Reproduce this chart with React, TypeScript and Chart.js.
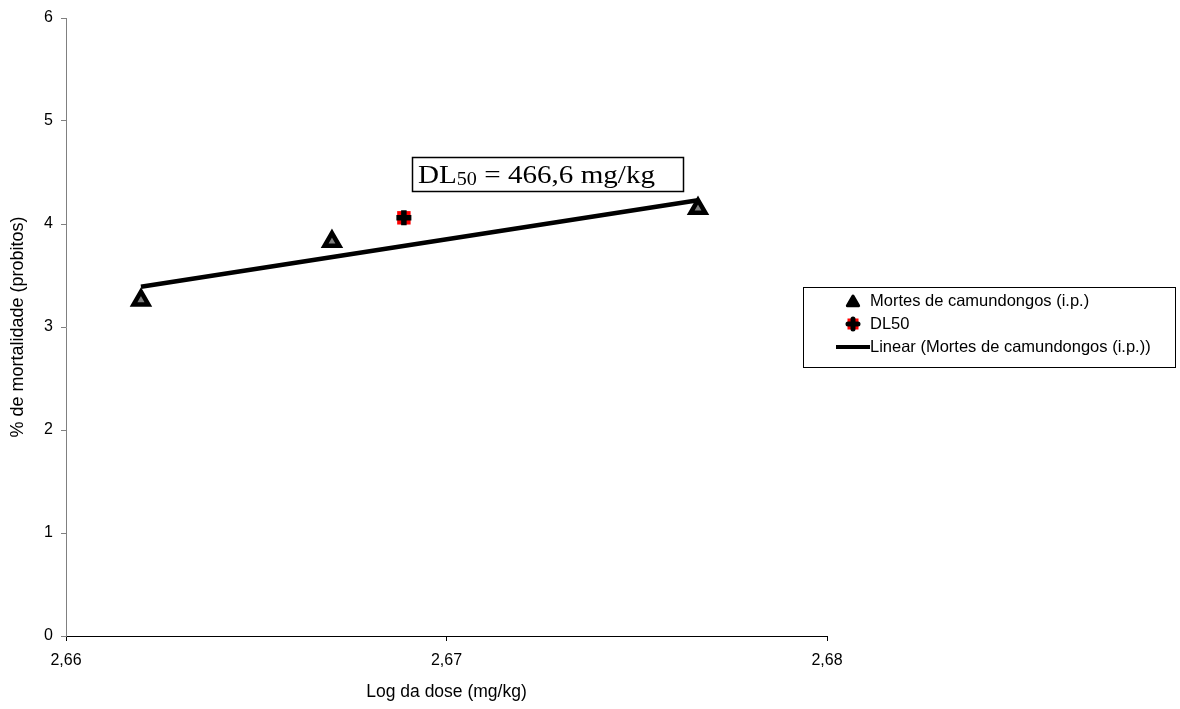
import React, { useEffect, useRef } from 'react';
import { Chart, registerables } from 'chart.js';

Chart.register(...registerables);

// ---- data ----
const doseLog = [2.66197, 2.66699, 2.67661];
const mortalityProbit = [3.26, 3.83, 4.15];
const dl50Log = [2.66888];
const dl50Probit = [4.06];
const trendLog = [2.66197, 2.67661];
const trendProbit = [3.39, 4.23];
const xTickValues = [2.66, 2.67, 2.68];
const yTickValues = [0, 1, 2, 3, 4, 5, 6];
const seriesLabels = [
  'Mortes de camundongos (i.p.)',
  'DL50',
  'Linear (Mortes de camundongos (i.p.))',
];
const xTitle = 'Log da dose (mg/kg)';
const yTitle = '% de mortalidade (probitos)';
const annotationMain = 'DL';
const annotationSub = '50';
const annotationRest = ' = 466,6 mg/kg';

const SANS = '"Liberation Sans", Arial, sans-serif';
const SERIF = '"Liberation Serif", "Times New Roman", serif';

function drawTriangle(ctx: CanvasRenderingContext2D, x: number, y: number, r: number) {
  ctx.beginPath();
  for (let i = 0; i < 3; i++) {
    const a = -Math.PI / 2 + (i * 2 * Math.PI) / 3;
    const px = x + Math.cos(a) * r;
    const py = y + Math.sin(a) * r;
    if (i === 0) ctx.moveTo(px, py);
    else ctx.lineTo(px, py);
  }
  ctx.closePath();
  ctx.fillStyle = '#000';
  ctx.fill();
  ctx.lineJoin = 'round';
  ctx.lineWidth = 3;
  ctx.strokeStyle = '#000';
  ctx.stroke();
}

function drawDL50(ctx: CanvasRenderingContext2D, x: number, y: number) {
  ctx.fillStyle = '#ff0000';
  ctx.fillRect(x - 5.5, y - 5.5, 11, 11);
  ctx.strokeStyle = '#000';
  ctx.lineWidth = 5;
  ctx.lineCap = 'round';
  ctx.beginPath();
  ctx.moveTo(x - 5, y);
  ctx.lineTo(x + 5, y);
  ctx.moveTo(x, y - 5);
  ctx.lineTo(x, y + 5);
  ctx.stroke();
  ctx.lineCap = 'butt';
}

const overlayPlugin = {
  id: 'overlay',
  afterDraw(chart: any) {
    const ctx: CanvasRenderingContext2D = chart.ctx;
    ctx.save();

    // annotation box
    ctx.strokeStyle = '#000';
    ctx.lineWidth = 1.5;
    ctx.strokeRect(412.5, 157.5, 271, 34);
    ctx.fillStyle = '#000';
    ctx.textBaseline = 'alphabetic';
    ctx.textAlign = 'left';
    const bigFont = `26px ${SERIF}`;
    const smallFont = `18px ${SERIF}`;
    ctx.font = bigFont;
    const wMain = ctx.measureText(annotationMain).width;
    const wRest = ctx.measureText(annotationRest).width;
    ctx.font = smallFont;
    const wSub = ctx.measureText(annotationSub).width;
    const total = wMain + wSub + wRest;
    const sx = 237 / total;
    const base = 183;
    ctx.save();
    ctx.translate(418, 0);
    ctx.scale(sx, 1);
    ctx.font = bigFont;
    ctx.fillText(annotationMain, 0, base);
    ctx.font = smallFont;
    ctx.fillText(annotationSub, wMain, base + 2);
    ctx.font = bigFont;
    ctx.fillText(annotationRest, wMain + wSub, base);
    ctx.restore();

    // legend
    ctx.lineWidth = 1;
    ctx.strokeStyle = '#000';
    ctx.strokeRect(803.5, 287.5, 372, 80);
    const rows = [301, 324, 347];
    drawTriangle(ctx, 853, rows[0] + 1.5, 6.5);
    drawDL50(ctx, 853, rows[1]);
    ctx.strokeStyle = '#000';
    ctx.lineWidth = 4;
    ctx.beginPath();
    ctx.moveTo(836, rows[2]);
    ctx.lineTo(870, rows[2]);
    ctx.stroke();
    ctx.font = `16.5px ${SANS}`;
    ctx.textBaseline = 'middle';
    ctx.fillStyle = '#000';
    ctx.fillText(seriesLabels[0], 870, rows[0]);
    ctx.fillText(seriesLabels[1], 870, rows[1]);
    ctx.fillText(seriesLabels[2], 870, rows[2]);

    ctx.restore();
  },
};

export default function App() {
  const canvasRef = useRef<HTMLCanvasElement | null>(null);

  useEffect(() => {
    if (!canvasRef.current) return;
    const chart = new Chart(canvasRef.current, {
      type: 'scatter',
      data: {
        datasets: [
          {
            label: seriesLabels[0],
            data: doseLog.map((x, i) => ({ x, y: mortalityProbit[i] })),
            pointStyle: 'triangle',
            pointRadius: 8.5,
            pointHoverRadius: 8.5,
            backgroundColor: '#808080',
            borderColor: '#000',
            borderWidth: 4.5,
            order: 1,
          },
          {
            label: seriesLabels[1],
            data: dl50Log.map((x, i) => ({ x, y: dl50Probit[i] })),
            pointStyle: 'cross',
            pointRadius: 7.5,
            borderColor: '#000',
            borderWidth: 5.5,
            order: 2,
          },
          {
            label: seriesLabels[1] + ' fill',
            data: dl50Log.map((x, i) => ({ x, y: dl50Probit[i] })),
            pointStyle: 'rect',
            pointRadius: 9.5,
            backgroundColor: '#ff0000',
            borderWidth: 0,
            order: 3,
          },
          {
            label: seriesLabels[2],
            data: trendLog.map((x, i) => ({ x, y: trendProbit[i] })),
            showLine: true,
            pointRadius: 0,
            borderColor: '#000',
            borderWidth: 4.5,
            order: 4,
          },
        ],
      },
      options: {
        responsive: true,
        maintainAspectRatio: false,
        animation: false,
        layout: { padding: { left: 0, right: 353, top: 18, bottom: 0 } },
        plugins: {
          legend: { display: false },
          tooltip: { enabled: false },
        },
        scales: {
          x: {
            type: 'linear',
            min: 2.66,
            max: 2.68,
            afterFit: (s: any) => {
              s.height = 73;
            },
            afterBuildTicks: (s: any) => {
              s.ticks = xTickValues.map((v) => ({ value: v }));
            },
            ticks: {
              color: '#000',
              font: { family: SANS, size: 16 },
              padding: 10,
              maxRotation: 0,
              callback: (v: any) => Number(v).toFixed(2).replace('.', ','),
            },
            grid: { drawOnChartArea: false, drawTicks: true, tickLength: 5, color: '#000' },
            border: { display: true, color: '#000', width: 1 },
            title: {
              display: true,
              text: xTitle,
              color: '#000',
              font: { family: SANS, size: 17.5 },
              padding: { top: 0, bottom: 6 },
            },
          },
          y: {
            type: 'linear',
            min: 0,
            max: 6,
            afterFit: (s: any) => {
              s.width = 66;
            },
            afterBuildTicks: (s: any) => {
              s.ticks = yTickValues.map((v) => ({ value: v }));
            },
            ticks: {
              color: '#000',
              font: { family: SANS, size: 16 },
              padding: 8,
              callback: (v: any) => String(v),
            },
            grid: { drawOnChartArea: false, drawTicks: true, tickLength: 5, color: '#808080' },
            border: { display: true, color: '#808080', width: 1 },
            title: {
              display: true,
              text: yTitle,
              color: '#000',
              font: { family: SANS, size: 18 },
              padding: { top: 7, bottom: 0 },
            },
          },
        },
      },
      plugins: [overlayPlugin],
    });
    return () => chart.destroy();
  }, []);

  return (
    <div style={{ position: 'absolute', left: 0, top: 0, width: 1180, height: 709, background: '#fff' }}>
      <canvas ref={canvasRef} />
    </div>
  );
}
